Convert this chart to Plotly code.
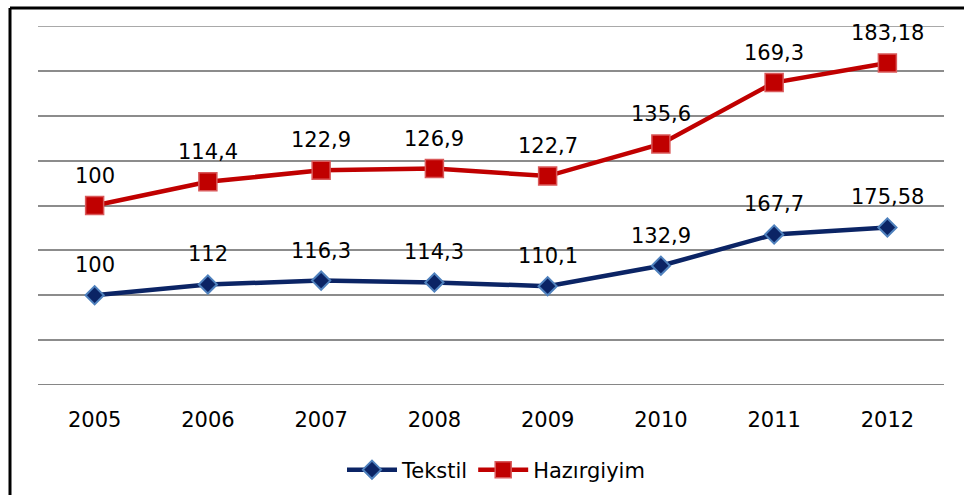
import plotly.graph_objects as go

years = ["2005", "2006", "2007", "2008", "2009", "2010", "2011", "2012"]
tekstil = [100, 112, 116.3, 114.3, 110.1, 132.9, 167.7, 175.58]
hazirgiyim = [100, 114.4, 122.9, 126.9, 122.7, 135.6, 169.3, 183.18]
series_names = ["Tekstil", "Hazırgiyim"]

FONT = "DejaVu Sans"
W, H = 964, 495
L, R, T, B = 38, 20, 26, 110
plot_h = H - T - B
plot_w = W - L - R


def fmt(v):
    return f"{v:g}".replace(".", ",")


fig = go.Figure()
fig.add_trace(go.Scatter(
    x=years, y=tekstil, name=series_names[0], stackgroup="s", fill="none",
    mode="lines+markers",
    line=dict(color="#0b2465", width=4.5),
    marker=dict(symbol="diamond", size=14, color="#0b2465",
                line=dict(color="#4f81bd", width=2)),
))
fig.add_trace(go.Scatter(
    x=years, y=hazirgiyim, name=series_names[1], stackgroup="s", fill="none",
    mode="lines+markers",
    line=dict(color="#c00000", width=4.5),
    marker=dict(symbol="square", size=18, color="#c00000",
                line=dict(color="#d9595a", width=1.5)),
))

stack_top = [a + b for a, b in zip(tekstil, hazirgiyim)]
annotations = []
for i, v in enumerate(tekstil):
    annotations.append(dict(x=i, y=v, xref="x", yref="y", text=fmt(v),
                            showarrow=False, yshift=30,
                            font=dict(family=FONT, size=21, color="#000000")))
for i, (v, c) in enumerate(zip(hazirgiyim, stack_top)):
    annotations.append(dict(x=i, y=c, xref="x", yref="y", text=fmt(v),
                            showarrow=False, yshift=30,
                            font=dict(family=FONT, size=21, color="#000000")))

# outer frame (top + left border) and edge gridlines
px_to_x = lambda px: (px - L) / plot_w
px_to_y = lambda py: (H - B - py) / plot_h
shapes = [
    dict(type="line", xref="paper", yref="paper", x0=px_to_x(10), x1=px_to_x(970),
         y0=px_to_y(8), y1=px_to_y(8), line=dict(color="#000000", width=3)),
    dict(type="line", xref="paper", yref="paper", x0=px_to_x(10), x1=px_to_x(10),
         y0=px_to_y(8), y1=px_to_y(500), line=dict(color="#000000", width=3)),
    dict(type="line", xref="paper", yref="y", x0=0, x1=1, y0=400, y1=400,
         line=dict(color="#8c8c8c", width=1.5), layer="below"),
    dict(type="line", xref="paper", yref="y", x0=0, x1=1, y0=0, y1=0,
         line=dict(color="#868686", width=2), layer="below"),
]

fig.update_layout(
    width=W, height=H,
    margin=dict(l=L, r=R, t=T, b=B, autoexpand=False),
    paper_bgcolor="white", plot_bgcolor="white",
    font=dict(family=FONT, size=21, color="#000000"),
    showlegend=True,
    legend=dict(orientation="h", x=px_to_x(496), xanchor="center", y=px_to_y(470),
                yanchor="middle", font=dict(family=FONT, size=21),
                itemwidth=50, traceorder="normal"),
    annotations=annotations,
    shapes=shapes,
    hovermode=False,
)
fig.update_xaxes(type="category", range=[-0.5, 7.5], showgrid=False,
                 showline=False, ticks="", ticklabelstandoff=20, automargin=False,
                 tickfont=dict(family=FONT, size=21, color="#000000"),
                 zeroline=False)
fig.update_yaxes(range=[0, 400], tickvals=[0, 50, 100, 150, 200, 250, 300, 350, 400],
                 showgrid=True, gridcolor="#8c8c8c", automargin=False,
                 gridwidth=1.5, showticklabels=False, zeroline=False,
                 showline=False, ticks="")

fig.write_html("out.html", config={"displayModeBar": False},
               post_script="document.body.style.margin='0';")
